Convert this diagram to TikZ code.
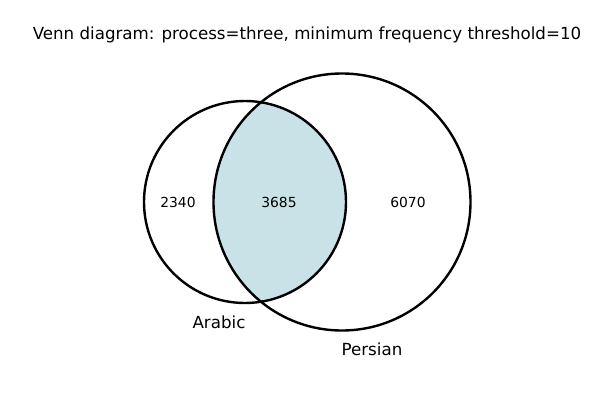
\documentclass[tikz,border=0pt]{standalone}
\usepackage{fontspec}
\setmainfont{DejaVu Sans}
\definecolor{interfill}{RGB}{201,226,232}
\begin{document}
\begin{tikzpicture}[x=0.75pt,y=-0.75pt,
  circ/.style={draw=black,line width=1.8pt},
  num/.style={font=\fontsize{10.4}{12}\selectfont,inner sep=0pt,anchor=center},
  lab/.style={font=\fontsize{12.5}{15}\selectfont,inner sep=0pt,anchor=center}]
\useasboundingbox (0,0) rectangle (600,400);
\begin{scope}
  \clip (245,202) circle (101);
  \fill[interfill] (342,202) circle (128.5);
\end{scope}
\draw[circ] (245,202) circle (101);
\draw[circ] (342,202) circle (128.5);
\node[lab] (title) at (307,35) {Venn diagram: process=three, minimum frequency threshold=10};
\node[num] (n1) at (178,202) {2340};
\node[num] (n2) at (279,202) {3685};
\node[num] (n3) at (408,202) {6070};
\node[lab] (la) at (219,322) {Arabic};
\node[lab] (lp) at (372,349) {Persian};
\end{tikzpicture}
\end{document}
